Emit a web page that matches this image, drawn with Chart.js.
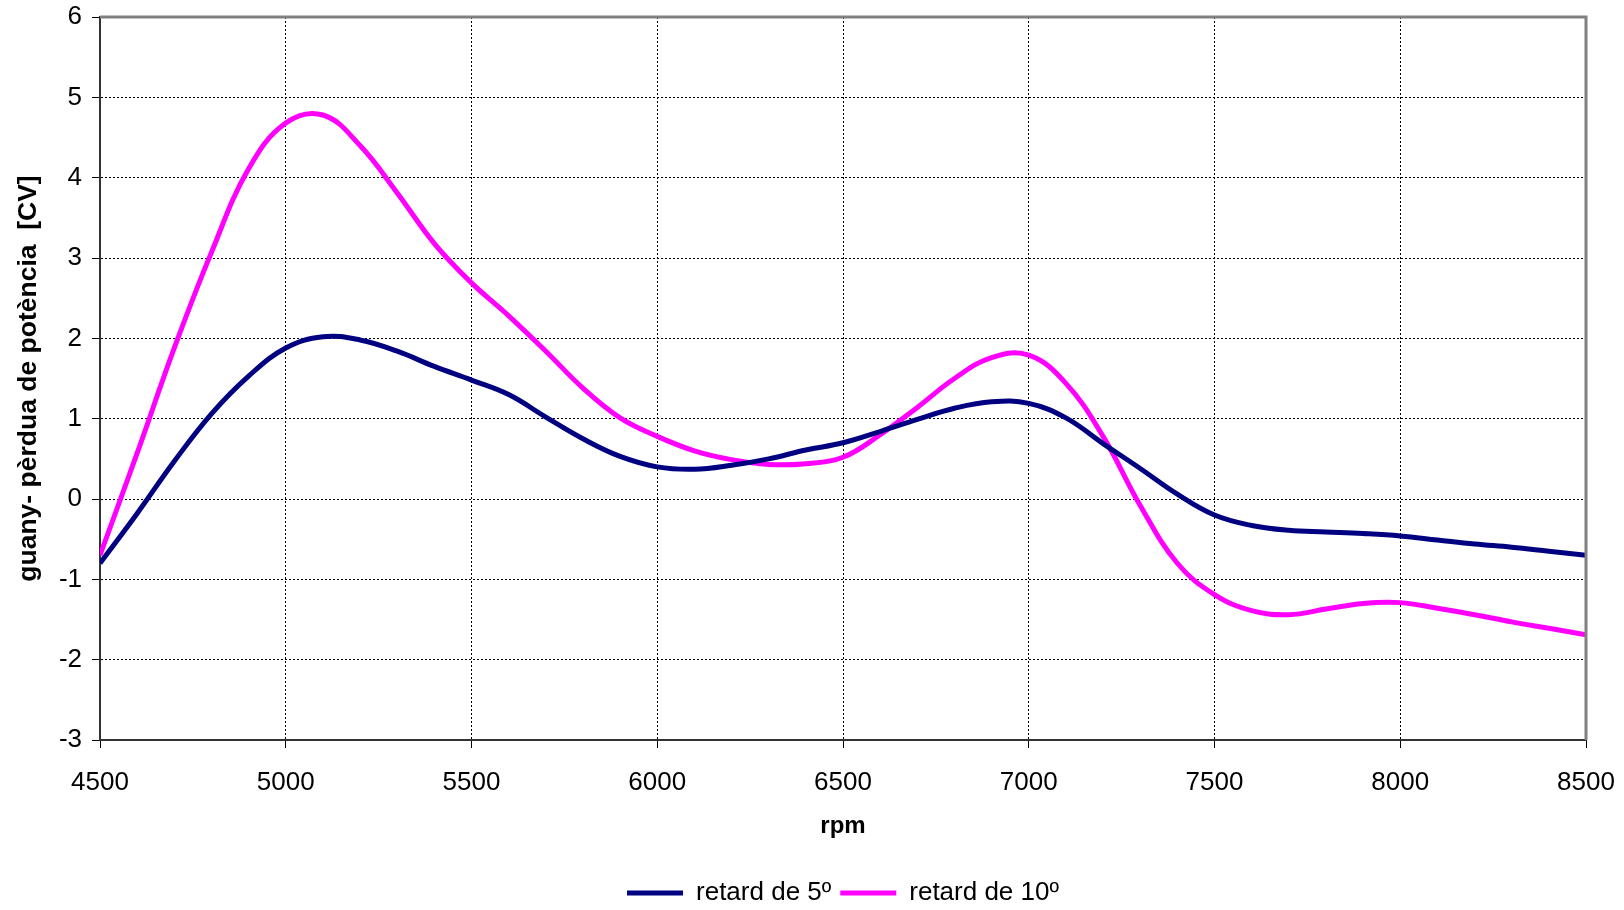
<!DOCTYPE html>
<html>
<head>
<meta charset="utf-8">
<script src="https://cdn.jsdelivr.net/npm/chart.js@4"></script>
<style>
  html, body { margin: 0; padding: 0; background: #fff; }
  #wrap { width: 1624px; height: 910px; position: relative; }
</style>
</head>
<body>
<div id="wrap"><canvas id="grafic"></canvas></div>
<script>
// dades llegides del gràfic (rpm cada 100)
const rpm = [4500, 4600, 4700, 4800, 4900, 5000, 5100, 5200, 5300, 5400,
             5500, 5600, 5700, 5800, 5900, 6000, 6100, 6200, 6300, 6400,
             6500, 6600, 6700, 6800, 6900, 7000, 7100, 7200, 7300, 7400,
             7500, 7600, 7700, 7800, 7900, 8000, 8100, 8200, 8300, 8400, 8500];

const retard5 = [-0.80, -0.18, 0.47, 1.06, 1.53, 1.88, 2.02, 1.98, 1.84, 1.65,
                 1.48, 1.30, 1.02, 0.75, 0.53, 0.40, 0.37, 0.42, 0.50, 0.61,
                 0.70, 0.84, 0.99, 1.13, 1.21, 1.19, 1.01, 0.69, 0.38, 0.06,
                 -0.20, -0.33, -0.39, -0.41, -0.43, -0.46, -0.51, -0.56, -0.60, -0.65, -0.70];

const retard10 = [-0.70, 0.57, 1.88, 3.07, 4.11, 4.68, 4.78, 4.40, 3.81, 3.18,
                  2.69, 2.28, 1.84, 1.38, 1.01, 0.78, 0.60, 0.49, 0.43, 0.44,
                  0.52, 0.80, 1.14, 1.50, 1.76, 1.79, 1.44, 0.78, -0.08, -0.80,
                  -1.19, -1.39, -1.44, -1.37, -1.30, -1.29, -1.36, -1.44, -1.53, -1.61, -1.69];

const etiquetes = ['retard de 5º', 'retard de 10º'];
const colors = ['#000080', '#FF00FF'];

const font = 'Liberation Sans, Arial, sans-serif';

function punts(valors) {
    return rpm.map((r, i) => ({ x: r, y: valors[i] }));
}

// marc gris de dalt i de la dreta
const marc = {
    id: 'marc',
    afterDatasetsDraw(chart) {
        const a = chart.chartArea;
        const ctx = chart.ctx;
        ctx.save();
        ctx.strokeStyle = '#808080';
        ctx.lineWidth = 3;
        ctx.beginPath();
        ctx.moveTo(a.left, a.top);
        ctx.lineTo(a.right, a.top);
        ctx.lineTo(a.right, a.bottom);
        ctx.stroke();
        ctx.restore();
    }
};

const ctx = document.getElementById('grafic').getContext('2d');

new Chart(ctx, {
    type: 'line',
    data: {
        datasets: [
            {
                label: etiquetes[0],
                data: punts(retard5),
                borderColor: colors[0],
                backgroundColor: colors[0],
                borderWidth: 5,
                pointRadius: 0,
                tension: 0.4,
                fill: false
            },
            {
                label: etiquetes[1],
                data: punts(retard10),
                borderColor: colors[1],
                backgroundColor: colors[1],
                borderWidth: 5,
                pointRadius: 0,
                tension: 0.4,
                fill: false
            }
        ]
    },
    options: {
        responsive: true,
        maintainAspectRatio: false,
        animation: false,
        layout: { padding: { top: 17, right: 38, left: 0, bottom: -6 } },
        plugins: {
            tooltip: { enabled: false },
            legend: {
                position: 'bottom',
                fullSize: false,
                labels: {
                    color: '#000',
                    font: { family: font, size: 26 },
                    boxWidth: 56,
                    boxHeight: 5,
                    padding: 9,
                    generateLabels(chart) {
                        return Chart.defaults.plugins.legend.labels.generateLabels(chart).map(l => {
                            l.lineWidth = 0;
                            return l;
                        });
                    }
                }
            }
        },
        scales: {
            x: {
                type: 'linear',
                min: 4500,
                max: 8500,
                ticks: {
                    stepSize: 500,
                    color: '#000',
                    font: { family: font, size: 26 },
                    padding: 19,
                    maxRotation: 0,
                    callback: v => String(v)
                },
                grid: {
                    color: '#000',
                    lineWidth: 1,
                    tickLength: 8,
                    tickColor: '#000',
                    tickWidth: 1
                },
                border: { color: '#333', width: 2, dash: [2, 2] },
                title: {
                    display: true,
                    text: 'rpm',
                    color: '#000',
                    font: { family: font, size: 24, weight: 'bold' },
                    padding: { top: 10, bottom: 30 }
                },
                afterFit(scale) {
                    scale.height = 131;
                    scale.paddingLeft = 0;
                    scale.paddingRight = 0;
                }
            },
            y: {
                min: -3,
                max: 6,
                ticks: {
                    stepSize: 1,
                    color: '#000',
                    font: { family: font, size: 26 },
                    padding: 10,
                    callback: v => String(v)
                },
                grid: {
                    color: '#000',
                    lineWidth: 1,
                    tickLength: 8,
                    tickColor: '#000',
                    tickWidth: 1
                },
                border: { color: '#333', width: 2, dash: [2, 2] },
                title: {
                    display: true,
                    text: 'guany- pèrdua de potència  [CV]',
                    color: '#000',
                    font: { family: font, size: 26.5, weight: 'bold' },
                    padding: { top: 13, bottom: 0 }
                },
                afterFit(scale) {
                    scale.width = 100;
                    scale.paddingTop = 0;
                    scale.paddingBottom = 0;
                }
            }
        }
    },
    plugins: [marc]
});
</script>
</body>
</html>
